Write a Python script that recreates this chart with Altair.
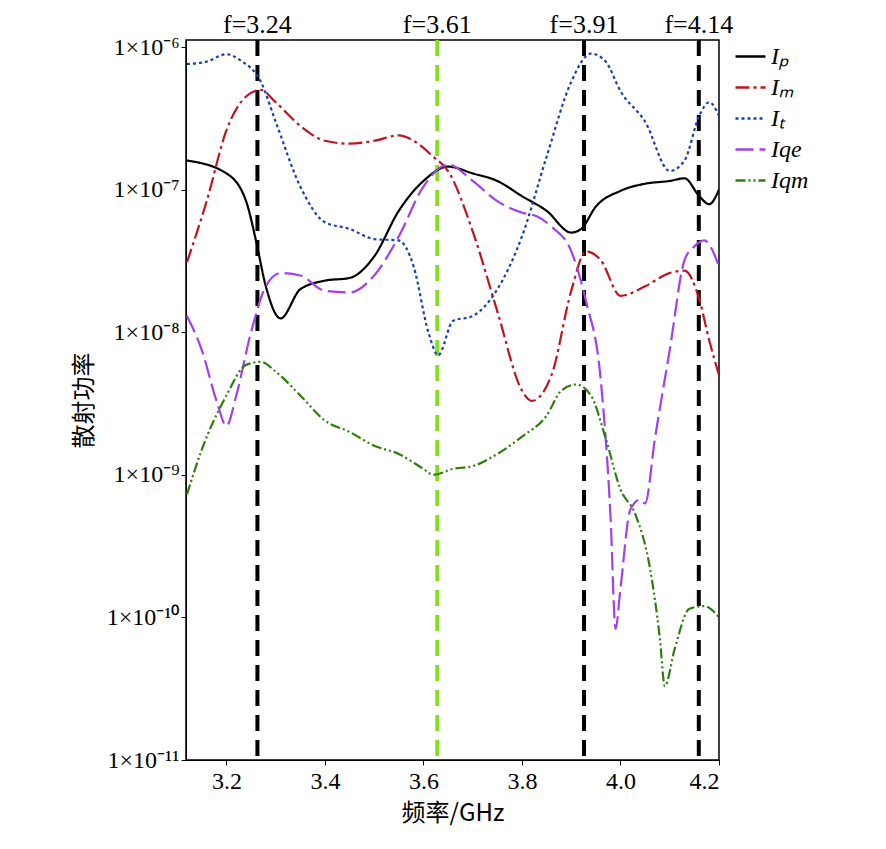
import altair as alt
import pandas as pd

x_p = [3.12,3.2,3.24,3.26,3.28,3.31,3.35,3.4,3.45,3.5,3.55,3.6,3.65,3.7,3.75,3.8,3.85,3.9,3.92,3.95,4.0,4.05,4.1,4.13,4.16,4.18,4.2]
y_p = [1.6e-7,1.3e-7,8.3e-8,4.4e-8,2.1e-8,1.25e-8,2.0e-8,2.3e-8,2.4e-8,3.4e-8,7.1e-8,1.15e-7,1.45e-7,1.3e-7,1.15e-7,9e-8,7.1e-8,5e-8,5.3e-8,7.6e-8,9.8e-8,1.1e-7,1.15e-7,1.2e-7,9e-8,7.9e-8,1.0e-7]
x_m = [3.12,3.16,3.2,3.24,3.27,3.3,3.35,3.4,3.45,3.5,3.55,3.58,3.62,3.65,3.7,3.75,3.8,3.82,3.86,3.9,3.93,3.96,4.0,4.05,4.1,4.13,4.16,4.18,4.2]
y_m = [3.1e-8,8.3e-8,2.6e-7,4.5e-7,5e-7,4.1e-7,2.8e-7,2.2e-7,2.1e-7,2.2e-7,2.4e-7,2.2e-7,1.7e-7,1.35e-7,5.1e-8,1.4e-8,3.9e-9,3.3e-9,5e-9,1.95e-8,3.7e-8,3.2e-8,1.8e-8,2.1e-8,2.6e-8,2.7e-8,1.7e-8,8.8e-9,5e-9]
x_t = [3.12,3.16,3.2,3.23,3.27,3.3,3.35,3.4,3.45,3.5,3.55,3.58,3.61,3.63,3.66,3.7,3.75,3.8,3.85,3.9,3.94,3.97,4.0,4.05,4.1,4.13,4.16,4.18,4.2]
y_t = [7.6e-7,7.9e-7,8.9e-7,8e-7,5.7e-7,3e-7,1.05e-7,5.9e-8,5.3e-8,4.5e-8,4.4e-8,2.9e-8,1.0e-8,6.9e-9,1.2e-8,1.3e-8,2e-8,4.7e-8,1.7e-7,5.7e-7,9e-7,7.9e-7,4.9e-7,3e-7,1.35e-7,1.6e-7,3.3e-7,4.1e-7,3.3e-7]
x_qe = [3.12,3.15,3.18,3.2,3.22,3.25,3.28,3.31,3.35,3.4,3.45,3.5,3.55,3.6,3.65,3.7,3.75,3.8,3.83,3.86,3.9,3.93,3.96,3.98,3.99,4.0,4.02,4.04,4.05,4.07,4.1,4.13,4.15,4.17,4.2]
y_qe = [1.3e-8,7.5e-9,3.3e-9,2.2e-9,3.6e-9,1.0e-8,2.1e-8,2.6e-8,2.5e-8,1.95e-8,1.9e-8,2.5e-8,4.7e-8,1.05e-7,1.5e-7,1.15e-7,8.3e-8,6.9e-8,6.5e-8,5.5e-8,3.7e-8,1.65e-8,4.6e-9,4.9e-10,8.3e-11,1.6e-10,5.7e-10,6.7e-10,6.3e-10,1.8e-9,7.5e-9,3.2e-8,4.0e-8,4.4e-8,2.9e-8]
x_qm = [3.12,3.15,3.2,3.24,3.27,3.3,3.35,3.4,3.45,3.5,3.55,3.6,3.62,3.66,3.7,3.75,3.8,3.85,3.88,3.91,3.94,3.97,4.0,4.03,4.06,4.08,4.09,4.11,4.14,4.17,4.2]
y_qm = [7.3e-10,1.5e-9,3.6e-9,5.9e-9,6.2e-9,5.3e-9,3.6e-9,2.4e-9,2.0e-9,1.6e-9,1.4e-9,1.1e-9,1.0e-9,1.1e-9,1.15e-9,1.4e-9,1.85e-9,2.6e-9,3.9e-9,4.3e-9,3.6e-9,1.8e-9,7.9e-10,5.3e-10,2.2e-10,7.1e-11,3.3e-11,6.0e-11,1.15e-10,1.2e-10,1.0e-10]

series = ["Iₚ", "Iₘ", "Iₜ", "Iqe", "Iqm"]
colors = ["#000000", "#c0141e", "#1540b0", "#a040f0", "#2e7d0c"]
dashes = [[1, 0], [14, 4, 3, 4], [3, 3], [18, 6], [10, 3, 2, 3, 2, 3]]

vline_x = [3.263, 3.628, 3.926, 4.159]
vline_lab = ["f=3.24", "f=3.61", "f=3.91", "f=4.14"]
vline_col = ["black", "#88dd22", "black", "black"]

rows = []
for name, xs, ys in zip(series, [x_p, x_m, x_t, x_qe, x_qm], [y_p, y_m, y_t, y_qe, y_qm]):
    for i, (a, b) in enumerate(zip(xs, ys)):
        rows.append({"s": name, "x": a, "y": b, "o": i})
df = pd.DataFrame(rows)
vl = pd.DataFrame({"x": vline_x, "lab": vline_lab, "c": vline_col})

FONT = "Liberation Serif"
xs = alt.Scale(domain=[3.118, 4.2], nice=False, zero=False)
ys = alt.Scale(type="log", domain=[1e-11, 1.12e-6], nice=False)

lab_expr = ("datum.value==1e-6?'1×10⁻⁶':datum.value==1e-7?'1×10⁻⁷':datum.value==1e-8?'1×10⁻⁸':"
            "datum.value==1e-9?'1×10⁻⁹':datum.value==1e-10?'1×10⁻¹⁰':datum.value==1e-11?'1×10⁻¹¹':''")

lines = alt.Chart(df).mark_line(strokeWidth=2.2, interpolate="monotone", clip=True).encode(
    x=alt.X("x:Q", scale=xs, axis=alt.Axis(title="频率/GHz", values=[3.2,3.4,3.6,3.8,4.0,4.2], format=".1f",
            grid=False, labelFontSize=24, titleFontSize=24, titleFont="Noto Sans CJK SC", labelFont=FONT,
            titlePadding=8, labelPadding=4,
            domainColor="black", tickColor="black", labelColor="black", titleColor="black", titleFontWeight="normal")),
    y=alt.Y("y:Q", scale=ys, axis=alt.Axis(title="散射功率", values=[1e-11,1e-10,1e-9,1e-8,1e-7,1e-6], labelExpr=lab_expr,
            grid=False, labelFontSize=24, titleFontSize=24, titleFont="Noto Sans CJK SC", labelFont=FONT,
            titlePadding=10,
            domainColor="black", tickColor="black", labelColor="black", titleColor="black", titleFontWeight="normal")),
    color=alt.Color("s:N", scale=alt.Scale(domain=series, range=colors), legend=alt.Legend(
        title=None, orient="none", legendX=548, legendY=0, symbolType="stroke", symbolSize=900,
        symbolStrokeWidth=2.5, labelFontSize=24, labelFont=FONT, labelFontStyle="italic", rowPadding=2)),
    strokeDash=alt.StrokeDash("s:N", scale=alt.Scale(domain=series, range=dashes), legend=None),
    order="o:Q",
)

rules = alt.Chart(vl).mark_rule(strokeWidth=4, strokeDash=[16, 9]).encode(
    x=alt.X("x:Q", scale=xs), color=alt.Color("c:N", scale=None))
texts = alt.Chart(vl).mark_text(fontSize=26, font=FONT, baseline="bottom", dy=-2, color="black").encode(
    x=alt.X("x:Q", scale=xs), y=alt.value(0), text="lab:N")

chart = alt.layer(rules, lines, texts).properties(
    width=533, height=720, padding={"left": 64, "top": 4, "right": 5, "bottom": 5}
).configure_view(stroke="black", strokeWidth=1.5)

chart.save("out.html", embed_options={"renderer": "svg", "actions": False})
